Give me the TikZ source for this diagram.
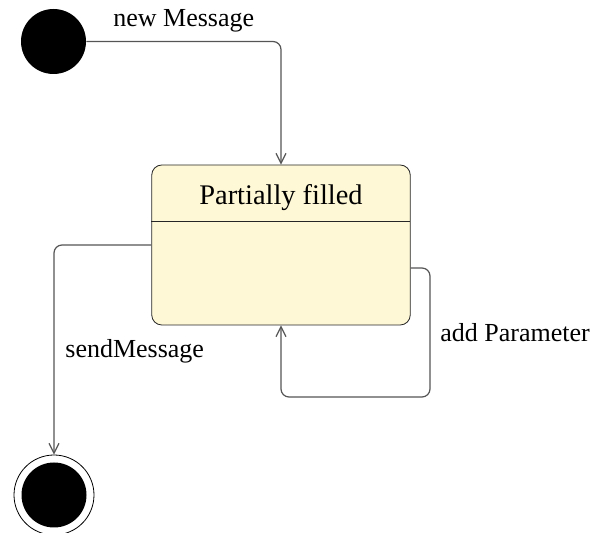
\documentclass[tikz,border=0pt]{standalone}
\usepackage{fontspec}
\setmainfont{Liberation Serif}
\usetikzlibrary{arrows.meta,positioning}
\definecolor{statefill}{HTML}{FFF8D6}
\definecolor{edgegray}{HTML}{555555}

\begin{document}
\begin{tikzpicture}[x=0.5pt,y=-0.5pt,
    startdot/.style={circle, fill=black, minimum size=32.5pt, inner sep=0pt},
    enddot/.style={circle, draw=black, minimum size=40pt, inner sep=0pt},
    statebox/.style={draw=black!85, fill=statefill, rounded corners=5pt, minimum width=129.25pt, minimum height=80pt, inner sep=0pt},
    trans/.style={draw=edgegray, line width=0.6pt, rounded corners=4pt, -{Straight Barb[length=5pt,width=5pt]}},
    lbl/.style={font=\fontsize{13}{15}\selectfont, inner sep=0pt, anchor=base west}]
    \useasboundingbox (0,0) rectangle (600,533);
    \node[startdot] (start) at (53.5,41.5) {};
    \node[statebox] (state) at (281,245) {};
    \node[font=\fontsize{14.2}{17}\selectfont, inner sep=0pt, anchor=base] (title) at (281,205) {Partially filled};
    \draw[draw=black!85] (state.north west) ++(0,57) -- ++(258.5,0);
    \node[enddot] (final) at (54,495) {};
    \node[startdot] (finaldot) at (final) {};
    \coordinate (loopcorner) at (430,397);
    \draw[trans] (start.east) -| (state.north);
    \draw[trans] (state.west) -| (final.north);
    \draw[trans] ([yshift=-11.5pt]state.east) -| (loopcorner) -| (state.south);
    \node[lbl] (newlbl) at (113,27) {new Message};
    \node[lbl] (sendlbl) at (65,358) {sendMessage};
    \node[lbl] (addlbl) at (440,342) {add Parameter};
\end{tikzpicture}
\end{document}
